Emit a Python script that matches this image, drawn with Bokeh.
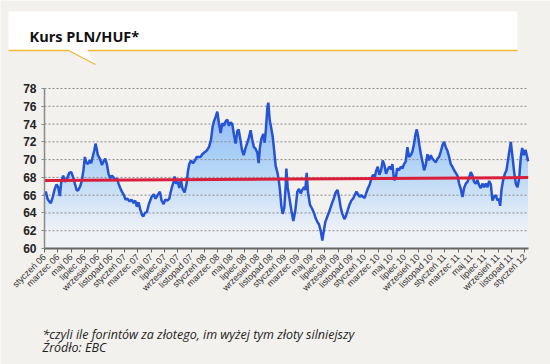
import numpy as np
from bokeh.plotting import figure
from bokeh.models import Range1d, FixedTicker, LinearAxis
from bokeh.core.properties import value
from bokeh.embed import file_html
from bokeh.resources import INLINE

# ---- data: PLN/HUF rate, time in months since 1 Jan 2006 ----
months = [0.0, 0.2, 0.45, 0.7, 0.95, 1.2, 1.5, 1.8, 2.05, 2.3, 2.5, 2.8, 3.1, 3.4, 3.7, 4.0, 4.3, 4.55, 4.85, 5.1,
          5.35, 5.6, 5.85, 6.05, 6.25, 6.5, 6.75, 7.0, 7.25, 7.45, 7.65, 7.8, 8.0, 8.3, 8.6, 8.85, 9.1, 9.35, 9.6, 9.85,
          10.1, 10.35, 10.6, 10.85, 11.1, 11.35, 11.6, 11.9, 12.15, 12.45, 12.75, 13.05, 13.35, 13.6, 13.85, 14.1, 14.35,
          14.6, 14.8, 15.05, 15.35, 15.65, 16.05, 16.4, 16.65, 16.95, 17.3, 17.55, 17.85, 18.1, 18.45, 18.7, 18.9, 19.1,
          19.35, 19.5, 19.7, 20.0, 20.2, 20.45, 20.7, 21.0, 21.3, 21.5, 21.7, 21.95, 22.25, 22.55, 22.8, 23.1, 23.4,
          23.65, 23.95, 24.3, 24.65, 24.95, 25.2, 25.4, 25.65, 25.9, 26.15, 26.4, 26.65, 26.9, 27.15, 27.4, 27.65, 27.9,
          28.15, 28.4, 28.65, 28.9, 29.1, 29.35, 29.6, 29.85, 30.1, 30.4, 30.65, 30.9, 31.15, 31.4, 31.65, 31.9, 32.1,
          32.3, 32.5, 32.8, 33.0, 33.2, 33.4, 33.55, 33.75, 34.0, 34.2, 34.4, 34.65, 34.9, 35.1, 35.3, 35.5, 35.7, 35.95,
          36.15, 36.25, 36.45, 36.75, 37.0, 37.3, 37.6, 37.9, 38.15, 38.4, 38.65, 38.9, 39.1, 39.3, 39.5, 39.8, 40.1,
          40.4, 40.65, 40.9, 41.15, 41.4, 41.65, 41.85, 42.1, 42.4, 42.75, 43.1, 43.35, 43.65, 43.9, 44.15, 44.4, 44.65,
          44.95, 45.2, 45.45, 45.7, 46.0, 46.25, 46.5, 46.75, 47.0, 47.25, 47.5, 47.75, 48.0, 48.25, 48.5, 48.75, 49.0,
          49.25, 49.5, 49.7, 49.95, 50.2, 50.45, 50.7, 50.95, 51.2, 51.45, 51.7, 51.95, 52.15, 52.4, 52.65, 52.85, 53.15,
          53.4, 53.65, 53.9, 54.15, 54.4, 54.65, 54.9, 55.15, 55.4, 55.6, 55.8, 56.0, 56.2, 56.4, 56.65, 56.9, 57.15,
          57.4, 57.65, 57.9, 58.15, 58.4, 58.65, 58.9, 59.15, 59.4, 59.65, 59.9, 60.15, 60.4, 60.65, 60.9, 61.15, 61.4,
          61.65, 61.9, 62.15, 62.4, 62.65, 62.9, 63.15, 63.4, 63.65, 63.9, 64.15, 64.4, 64.65, 64.9, 65.15, 65.4, 65.65,
          65.9, 66.15, 66.4, 66.65, 66.9, 67.15, 67.4, 67.65, 67.9, 68.1, 68.3, 68.5, 68.75, 69.0, 69.25, 69.45, 69.65,
          69.9, 70.15, 70.4, 70.65, 70.9, 71.15, 71.4, 71.6, 71.85, 72.1, 72.35, 72.5]
rates = [66.0, 66.4, 65.6, 65.3, 65.1, 65.7, 66.6, 67.2, 66.9, 65.9, 67.4, 68.2, 67.5, 67.9, 68.5, 68.6, 68.0, 67.3,
         66.5, 66.6, 67.0, 67.6, 68.9, 70.3, 69.7, 69.5, 69.9, 69.6, 70.4, 71.0, 71.8, 71.3, 70.5, 70.1, 69.4, 69.8,
         70.1, 69.5, 68.4, 67.9, 68.2, 68.0, 67.7, 67.9, 67.3, 66.8, 66.4, 66.0, 65.5, 65.6, 65.3, 65.5, 65.1, 65.4,
         64.7, 65.2, 64.4, 63.8, 63.6, 64.0, 64.1, 65.0, 65.8, 66.1, 65.6, 66.0, 66.4, 65.4, 65.0, 65.5, 65.4, 65.6,
         66.3, 66.9, 67.5, 68.1, 67.3, 67.5, 66.8, 67.7, 66.7, 66.3, 67.3, 68.7, 69.5, 69.9, 69.6, 69.9, 70.3, 70.3,
         70.3, 70.6, 70.8, 71.0, 71.4, 72.2, 73.7, 74.3, 74.8, 75.4, 74.1, 73.0, 74.1, 73.8, 74.3, 74.5, 73.8, 74.2,
         74.0, 72.8, 71.8, 73.2, 73.4, 72.3, 71.1, 70.5, 71.2, 71.9, 72.5, 73.3, 72.2, 71.4, 71.2, 70.8, 69.6, 71.4,
         72.3, 72.9, 71.9, 73.5, 75.8, 76.4, 74.5, 73.5, 72.6, 71.2, 69.3, 68.6, 67.8, 66.5, 64.8, 63.9, 64.6, 67.0,
         69.0, 66.9, 65.5, 64.3, 63.1, 64.3, 66.4, 66.7, 66.2, 66.6, 66.9, 66.6, 68.5, 66.3, 64.9, 64.5, 64.0, 63.4,
         63.0, 62.7, 62.0, 60.9, 61.9, 63.0, 63.6, 64.3, 65.1, 65.6, 66.3, 66.6, 65.8, 64.6, 63.9, 63.3, 63.7, 64.3,
         64.9, 65.4, 65.6, 66.0, 66.4, 66.1, 65.8, 66.0, 65.8, 65.7, 66.3, 66.8, 67.2, 67.9, 68.3, 68.0, 68.7, 69.2,
         68.3, 68.8, 69.9, 69.4, 68.4, 68.9, 69.2, 68.9, 69.5, 67.7, 67.9, 69.0, 68.8, 69.2, 69.0, 69.5, 69.8, 71.4,
         70.3, 70.5, 70.9, 71.8, 72.8, 73.4, 72.6, 71.6, 70.7, 69.8, 68.8, 69.4, 70.6, 69.9, 70.5, 70.1, 69.9, 69.7,
         70.1, 70.3, 70.9, 71.6, 72.0, 71.4, 71.0, 70.3, 69.5, 69.2, 68.8, 68.5, 68.2, 67.3, 66.7, 65.8, 66.8, 67.3,
         67.5, 68.0, 68.6, 68.2, 67.5, 67.3, 67.7, 67.1, 66.8, 67.3, 66.9, 67.3, 66.9, 67.6, 67.2, 65.4, 65.8, 66.0,
         65.4, 65.6, 64.8, 66.6, 67.7, 68.4, 68.8, 69.8, 70.8, 72.0, 70.3, 68.6, 67.3, 66.9, 67.9, 70.3, 71.3, 70.5,
         71.1, 70.3, 69.8]
trend_start, trend_end = 67.65, 67.98

month_names = ["styczeń", "marzec", "maj", "lipiec", "wrzesień", "listopad"]
years = ["06", "07", "08", "09", "10", "11"]
tick_labels = [f"{m} {y}" for y in years for m in month_names] + ["styczeń 12"]
tick_positions = list(range(0, 73, 2))
y_ticks = list(range(60, 79, 2))

title_text = "Kurs PLN/HUF*"
note_text = "*czyli ile forintów za złotego, im wyżej tym złoty silniejszy"
source_text = "Źródło: EBC"

# ---- layout (page pixels) ----
BG = "#f3f1ee"
ORANGE = "#f0b83c"
W, H = 550, 364
FL, FR, FT, FB = 44, 528, 88, 248          # chart area edges
X0, X1, Y0, Y1 = 0.0, 72.55, 60.0, 78.0    # chart data extents

mpp = (X1 - X0) / (FR - FL)
rpp = (Y1 - Y0) / (FB - FT)

# the frame covers the whole canvas; page-pixel ranges for the decorations,
# extra ranges for the chart itself
p = figure(width=W, height=H, x_range=Range1d(0, W), y_range=Range1d(H, 0),
           x_axis_type=None, y_axis_type=None,
           output_backend="svg", toolbar_location=None, min_border=0)
p.extra_x_ranges = {"t": Range1d(X0 - FL * mpp, X1 + (W - FR) * mpp)}
p.extra_y_ranges = {"r": Range1d(Y0 - (H - FB) * rpp, Y1 + FT * rpp)}
p.background_fill_color = BG
p.border_fill_color = BG
p.outline_line_color = None
p.grid.visible = False

# ---- header: white speech-bubble box with orange bottom edge ----
p.quad(left=[8], right=[517], top=[11], bottom=[50], fill_color="white", line_color=None)
p.patch([68, 95, 87.3], [50, 64, 50], fill_color="white", line_color=None)
p.line([8, 68, 95], [50, 50, 64], line_color=ORANGE, line_width=1.4)
p.line([87.3, 517], [50, 50], line_color=ORANGE, line_width=1.4)
p.text(x=[29], y=[35.5], text=[title_text], text_font=value("Open Sans"), text_font_style="bold",
       text_font_size="14.5px", text_baseline="alphabetic", text_color="#111111")

# ---- chart ----
CH = dict(x_range_name="t", y_range_name="r")
vals = np.array(rates)
p.varea(x=months, y1=np.full_like(vals, Y0), y2=vals, fill_color="#eef2f6", fill_alpha=0.9, **CH)
for lvl in np.arange(62, 77, 0.25):
    p.varea(x=months, y1=np.full_like(vals, lvl), y2=np.maximum(vals, lvl),
            fill_color="#4a98de", fill_alpha=0.0125, **CH)

# dotted horizontal grid lines at the y ticks
p.segment(x0=[X0] * len(y_ticks), x1=[X1] * len(y_ticks), y0=y_ticks, y1=y_ticks,
          line_color="#8a8a8a", line_dash="2 2", line_width=1, **CH)

p.line(months, rates, line_color="#2453d4", line_width=2.5, **CH)
p.line([months[0], months[-1]], [trend_start, trend_end], line_color="#d91f3c", line_width=3, **CH)

xaxis = LinearAxis(x_range_name="t", y_range_name="r", fixed_location=Y0, bounds=(X0, X1),
                   ticker=FixedTicker(ticks=tick_positions))
xaxis.major_label_overrides = dict(zip(tick_positions, tick_labels))
xaxis.major_label_orientation = float(np.pi / 4)
xaxis.major_label_text_font = "Liberation Sans"
xaxis.major_label_text_font_size = "9px"
xaxis.major_label_text_color = "#333333"
xaxis.major_label_standoff = 3
xaxis.axis_line_color = "#666666"
xaxis.axis_line_width = 2
xaxis.major_tick_line_color = "#666666"
xaxis.major_tick_out = 4
xaxis.major_tick_in = 0
xaxis.minor_tick_line_color = None
p.add_layout(xaxis, "below")

yaxis = LinearAxis(x_range_name="t", y_range_name="r", fixed_location=X0, bounds=(Y0, Y1),
                   ticker=FixedTicker(ticks=y_ticks))
yaxis.major_label_text_font = "Liberation Sans"
yaxis.major_label_text_font_style = "bold"
yaxis.major_label_text_font_size = "12px"
yaxis.major_label_text_color = "#222222"
yaxis.major_label_standoff = 5
yaxis.axis_line_color = "#8a8a8a"
yaxis.axis_line_width = 1.5
yaxis.major_tick_line_color = "#8a8a8a"
yaxis.major_tick_out = 3
yaxis.major_tick_in = 0
yaxis.minor_tick_line_color = None
p.add_layout(yaxis, "left")

# ---- footer notes ----
p.text(x=[42, 42], y=[333.5, 347], text=[note_text, source_text], text_font=value("Open Sans"),
       text_font_style="italic", text_font_size="12.5px", text_baseline="middle", text_color="#222222")

html = file_html(p, INLINE)
html = html.replace("<body>", '<body style="background-color:#f3f1ee;">', 1)
open("out.html", "w").write(html)
